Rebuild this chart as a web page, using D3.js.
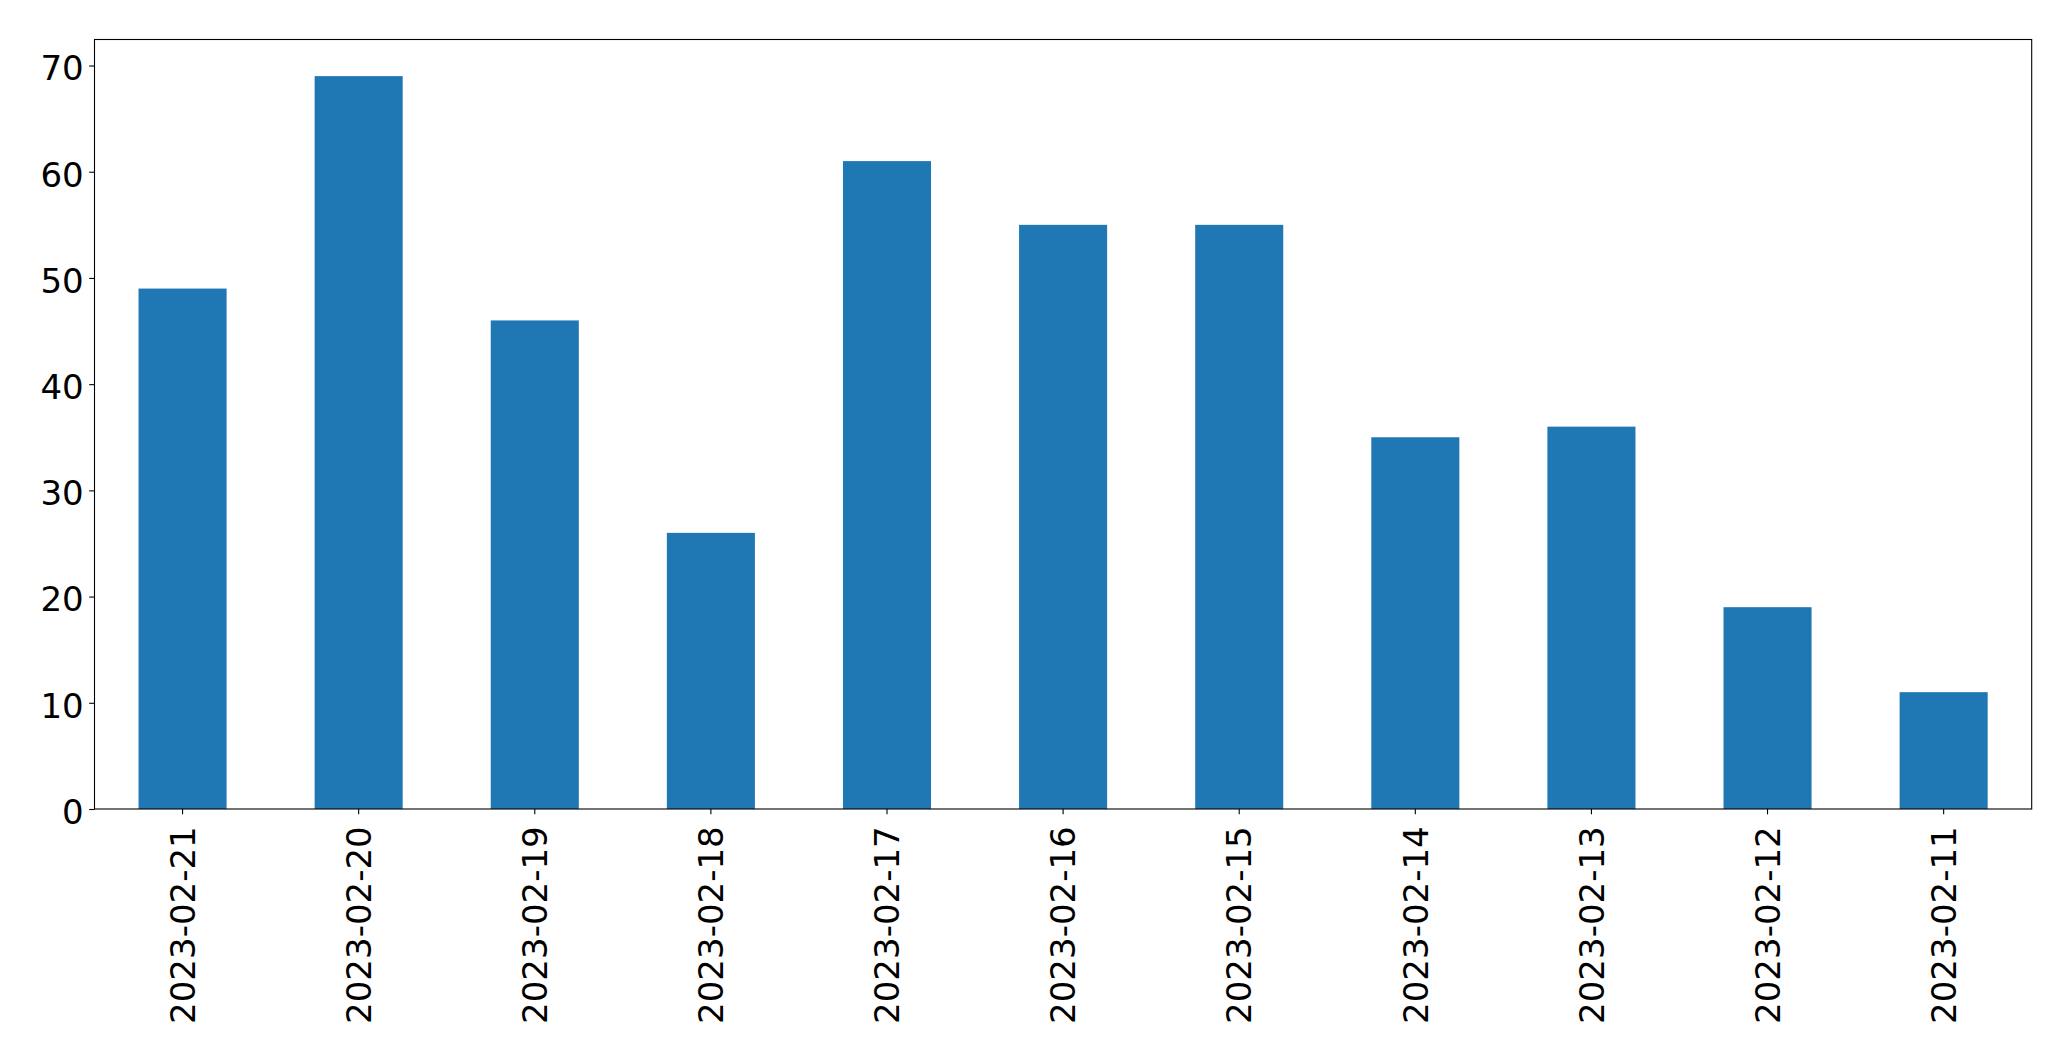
<!DOCTYPE html>
<html>
<head>
<meta charset="utf-8">
<script src="https://cdn.jsdelivr.net/npm/d3@7"></script>
<style>
html,body{margin:0;padding:0;background:#fff;}
svg{display:block;}
</style>
</head>
<body>
<svg id="chart" width="2071" height="1061"></svg>
<script>
const categories = ["2023-02-21","2023-02-20","2023-02-19","2023-02-18","2023-02-17","2023-02-16","2023-02-15","2023-02-14","2023-02-13","2023-02-12","2023-02-11"];
const values = [49, 69, 46, 26, 61, 55, 55, 35, 36, 19, 11];
const yTicks = [0, 10, 20, 30, 40, 50, 60, 70];

const W = 2071, H = 1061;
const m = {left: 94.5, right: W - 2031.7, top: 39.5, bottom: H - 809};
const svg = d3.select("#chart");
const font = "DejaVu Sans, sans-serif";

const x = d3.scaleBand().domain(categories).range([m.left, W - m.right]).paddingInner(0.5).paddingOuter(0.25);
const y = d3.scaleLinear().domain([0, d3.max(values) * 1.05]).range([H - m.bottom, m.top]);

svg.append("g").selectAll("rect").data(values).join("rect")
  .attr("x", (d, i) => x(categories[i]))
  .attr("width", x.bandwidth())
  .attr("y", d => y(d))
  .attr("height", d => y(0) - y(d))
  .attr("fill", "#1f77b4");

// frame
svg.append("rect")
  .attr("x", m.left).attr("y", m.top)
  .attr("width", W - m.right - m.left).attr("height", H - m.bottom - m.top)
  .attr("fill", "none").attr("stroke", "#000").attr("stroke-width", 1.1);

const yAxis = svg.append("g").attr("transform", `translate(${m.left},0)`)
  .call(d3.axisLeft(y).tickValues(yTicks).tickSize(5.3).tickPadding(5.5).tickFormat(d3.format("d")));
yAxis.select(".domain").remove();
yAxis.selectAll("line").attr("stroke", "#000").attr("stroke-width", 1.1);
yAxis.selectAll("text").attr("font-family", font).attr("font-size", "34px").attr("fill", "#000").attr("dy", "0.42em");

const xAxis = svg.append("g").attr("transform", `translate(0,${H - m.bottom})`)
  .call(d3.axisBottom(x).tickSize(5.3).tickPadding(12));
xAxis.select(".domain").remove();
xAxis.selectAll("line").attr("stroke", "#000").attr("stroke-width", 1.1);
xAxis.selectAll("text")
  .attr("font-family", font).attr("font-size", "34px").attr("fill", "#000")
  .attr("text-anchor", "end")
  .attr("transform", "rotate(-90)")
  .attr("x", -17.3).attr("y", 0).attr("dy", "0.36em");
</script>
</body>
</html>
